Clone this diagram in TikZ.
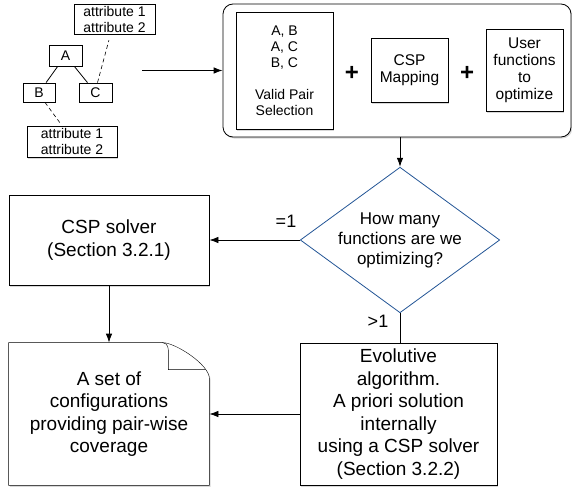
\documentclass[tikz,border=0pt]{standalone}
\usepackage{fontspec}
\setmainfont{Liberation Sans}
\usetikzlibrary{shapes,shadows,arrows.meta,backgrounds}
\definecolor{decblue}{RGB}{35,85,150}
\tikzstyle{line} = [draw, -{Latex[length=9pt, width=6.5pt]}]
\tikzstyle{dashline} = [draw, line width=0.6pt, dash pattern=on 4pt off 3pt]
\tikzstyle{shadowed} = [drop shadow={shadow xshift=1.2pt, shadow yshift=-1.5pt, fill=black!30}]
\tikzstyle{doctext} = [rectangle, align=center, inner sep=2pt, font=\fontsize{19}{22.5}\selectfont]
\tikzstyle{box} = [doctext, draw, fill=white, shadowed]
\tikzstyle{attrbox} = [rectangle, draw, fill=white, shadowed, align=center, inner sep=1pt, font=\fontsize{14}{16}\selectfont]
\tikzstyle{partbox} = [attrbox, font=\fontsize{15.5}{17}\selectfont]
\tikzstyle{groupbox} = [rectangle, draw, fill=white, shadowed, rounded corners=10pt, minimum width=348pt, minimum height=133pt]
\tikzstyle{decision} = [diamond, draw=decblue, fill=white, aspect=1.37, inner sep=0pt, align=center, font=\fontsize{17}{20}\selectfont]
\tikzstyle{plussign} = [font=\fontsize{24}{24}\selectfont\bfseries]
\tikzstyle{lbl} = [font=\fontsize{18}{18}\selectfont]

\begin{document}
\begin{tikzpicture}[x=1pt, y=1pt, line width=0.8pt]
	\useasboundingbox (0,0) rectangle (572,491);

	% decision in the middle, everything else hangs off it
	\node [decision] (dec) at (400,251) {How many\\functions are we\\optimizing?};
	\node [groupbox, above of = dec, node distance = 169.5pt, xshift = -3pt] (group) {};
	\node [partbox, left of = group, node distance = 112.5pt, minimum width = 97pt, minimum height = 117pt, font=\fontsize{14}{16}\selectfont] (pairs) {A, B\\A, C\\B, C\\[16pt]Valid Pair\\Selection};
	\node [partbox, right of = pairs, node distance = 125pt, minimum width = 77pt, minimum height = 64pt] (mapping) {CSP\\Mapping};
	\node [partbox, right of = mapping, node distance = 115pt, minimum width = 77pt, minimum height = 82pt] (userfn) {User\\functions\\to\\optimize};
	\node [plussign, right of = pairs, node distance = 67.5pt, yshift = -2.5pt] (plus1) {+};
	\node [plussign, right of = mapping, node distance = 57.5pt, yshift = -3pt] (plus2) {+};

	\node [box, left of = dec, node distance = 291pt, minimum width = 200pt, minimum height = 90pt] (solver) {CSP solver\\(Section 3.2.1)};
	\node [doctext, below of = solver, node distance = 174pt, minimum width = 200pt, minimum height = 142pt] (doc) {A set of\\configurations\\providing pair-wise\\coverage};
	\node [box, below of = dec, node distance = 174pt, xshift = -1.5pt, minimum width = 197pt, minimum height = 142pt] (evo) {Evolutive\\algorithm.\\A priori solution\\internally\\using a CSP solver\\(Section 3.2.2)};

	\node [lbl, left of = dec, node distance = 114pt, yshift = 19pt] (eq1) {=1};
	\node [lbl, below of = dec, node distance = 81pt, xshift = -22pt] (gt1) {>1};

	% document with folded corner
	\begin{scope}[on background layer]
		\draw [shadowed, fill=white] (doc.south west) -- (doc.north west) -- ([xshift=-47pt]doc.north east)
			.. controls ([xshift=-34pt]doc.north east) and ([yshift=-22pt]doc.north east) .. ([yshift=-36pt]doc.north east)
			-- (doc.south east) -- cycle;
		\draw ([xshift=-47pt]doc.north east) .. controls ([xshift=-41pt, yshift=-1pt]doc.north east) and ([xshift=-41pt, yshift=-5pt]doc.north east) .. ([xshift=-41pt, yshift=-12pt]doc.north east)
			-- ([xshift=-41pt, yshift=-27pt]doc.north east) -- ([xshift=-4pt, yshift=-27pt]doc.north east);
	\end{scope}

	% feature tree
	\node [attrbox, minimum width = 33pt, minimum height = 21pt] (A) at (65.5,435.5) {A};
	\node [attrbox, below of = A, node distance = 37pt, xshift = -26.5pt, minimum width = 32pt, minimum height = 19pt] (B) {B};
	\node [attrbox, below of = A, node distance = 37pt, xshift = 30pt, minimum width = 33pt, minimum height = 19pt] (C) {C};
	\node [attrbox, above of = A, node distance = 36.5pt, xshift = 49pt, minimum width = 81pt, minimum height = 30pt] (attrc) {attribute 1\\attribute 2};
	\node [attrbox, below of = B, node distance = 49pt, xshift = 33pt, minimum width = 90pt, minimum height = 31pt] (attrb) {attribute 1\\attribute 2};
	\coordinate [left of = group, node distance = 255pt] (start);

	\draw (A) -- (B);
	\draw (A) -- (C);
	\path [dashline, shorten >= 6pt] ([xshift=2pt]C.north) -- ([xshift=-4pt]attrc.south);
	\path [dashline, shorten >= 3pt] ([xshift=6pt]B.south) -- ([xshift=-10pt]attrb.north);

	\path [line] (start) -- (group.west);
	\path [line] (group.south -| dec.north) -- (dec.north);
	\path [line] (dec.west) -- (solver.east);
	\path [line] (solver.south) -- (doc.north);
	\draw (dec.south) -- (dec.south |- evo.north);
	\path [line] (evo.west) -- (doc.east);
\end{tikzpicture}
\end{document}
